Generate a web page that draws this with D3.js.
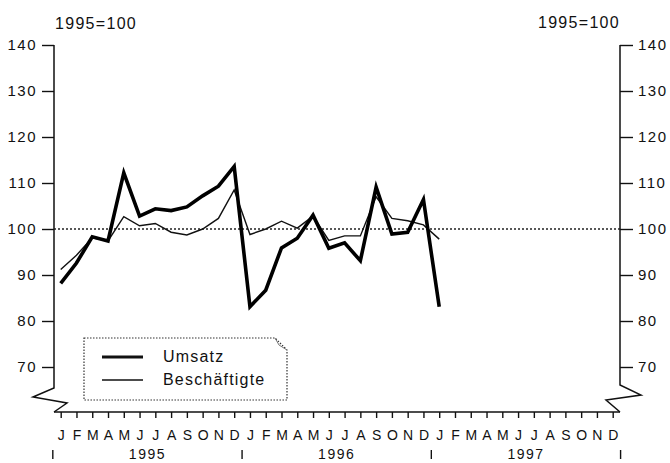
<!DOCTYPE html>
<html>
<head>
<meta charset="utf-8">
<script src="https://cdn.jsdelivr.net/npm/d3@7"></script>
<style>
  body { margin: 0; background: #fff; }
  svg text { font-family: "Liberation Sans", Arial, sans-serif; fill: #111; }
</style>
</head>
<body>
<div id="chart"></div>
<script>
// monthly index values, 1995=100 (Jan 1995 .. Jan 1997)
const months = ["J","F","M","A","M","J","J","A","S","O","N","D"];
const years = ["1995", "1996", "1997"];
const yTicks = [70, 80, 90, 100, 110, 120, 130, 140];

const umsatz = [88.2, 92.6, 98.3, 97.4, 112.2, 102.8, 104.4, 104.0, 104.8, 107.2, 109.3, 113.6,
                83.1, 86.7, 95.9, 98.0, 103.0, 95.8, 97.0, 93.1, 109.1, 98.9, 99.3, 106.4, 83.1];
const beschaeftigte = [91.2, 94.3, 98.1, 97.4, 102.7, 100.7, 101.2, 99.3, 98.7, 100.0, 102.3, 108.5,
                98.8, 100.0, 101.7, 100.2, 102.8, 97.5, 98.5, 98.5, 107.0, 102.3, 101.8, 100.9, 97.8];

const width = 670, height = 463;
const svg = d3.select("#chart").append("svg")
  .attr("width", width)
  .attr("height", height);

const axisLeftX = 54, axisRightX = 620, axisBottomY = 412;

// scales
const x = d3.scaleLinear().domain([0, 35]).range([60.7, 612.7]);
const y = d3.scaleLinear().domain([70, 140]).range([367, 45]);

//------------------ AXES ------------------//
const leftAxis = svg.append("g")
  .attr("transform", "translate(" + axisLeftX + ",0)")
  .call(d3.axisLeft(y).tickValues(yTicks).tickSize(12).tickPadding(5).tickFormat(d3.format("d")));
leftAxis.select(".domain").remove();

const rightAxis = svg.append("g")
  .attr("transform", "translate(" + axisRightX + ",0)")
  .call(d3.axisRight(y).tickValues(yTicks).tickSize(13).tickPadding(5).tickFormat(d3.format("d")));
rightAxis.select(".domain").remove();

svg.selectAll(".tick line").attr("stroke", "#111").attr("stroke-width", 1.4);
svg.selectAll(".tick text")
  .style("font-size", "15px")
  .style("letter-spacing", "1.5px");

// vertical axis lines with the broken-axis zigzag at the bottom
svg.append("path")
  .attr("d", "M" + axisLeftX + "," + y(140) + " V388 L33,397 L67,403 L" + axisLeftX + "," + axisBottomY)
  .attr("fill", "none").attr("stroke", "#111").attr("stroke-width", 1.5);
svg.append("path")
  .attr("d", "M" + axisRightX + "," + y(140) + " V385 L641,395 L606,400 L" + axisRightX + "," + axisBottomY)
  .attr("fill", "none").attr("stroke", "#111").attr("stroke-width", 1.5);

// x axis
svg.append("line")
  .attr("x1", axisLeftX).attr("x2", axisRightX)
  .attr("y1", axisBottomY).attr("y2", axisBottomY)
  .attr("stroke", "#111").attr("stroke-width", 1.5);

const monthIdx = d3.range(36);
const xAxis = svg.append("g")
  .attr("transform", "translate(0," + axisBottomY + ")")
  .call(d3.axisBottom(x).tickValues(monthIdx).tickSize(6).tickPadding(12)
    .tickFormat(i => months[i % 12]));
xAxis.select(".domain").remove();
xAxis.selectAll("line").attr("stroke", "#111").attr("stroke-width", 1.4);
xAxis.selectAll("text").style("font-size", "14px").style("letter-spacing", "0px");

// year separators and labels
const step = x(1) - x(0);
d3.range(4).forEach(k => {
  const sx = x(k * 12) - step / 2;
  svg.append("line")
    .attr("x1", sx).attr("x2", sx).attr("y1", 450).attr("y2", 459)
    .attr("stroke", "#111").attr("stroke-width", 1.4);
});
svg.selectAll(".year")
  .data(years)
  .enter()
  .append("text")
  .attr("class", "year")
  .attr("x", (d, i) => (x(i * 12) + x(i * 12 + 11)) / 2)
  .attr("y", 459)
  .attr("text-anchor", "middle")
  .style("font-size", "14px")
  .style("letter-spacing", "1.5px")
  .text(d => d);

// base labels
svg.append("text").attr("x", 55).attr("y", 29)
  .style("font-size", "16px").style("letter-spacing", "1.3px").text("1995=100");
svg.append("text").attr("x", 620).attr("y", 28).attr("text-anchor", "end")
  .style("font-size", "16px").style("letter-spacing", "1.3px").text("1995=100");

// dotted 100 reference line
svg.append("line")
  .attr("x1", axisLeftX).attr("x2", axisRightX)
  .attr("y1", y(100)).attr("y2", y(100))
  .attr("stroke", "#222").attr("stroke-width", 1.3)
  .attr("stroke-dasharray", "2,2");

//------------------ LINES ------------------//
const line = d3.line()
  .x((d, i) => x(i))
  .y(d => y(d));

svg.append("path")
  .datum(beschaeftigte)
  .attr("d", line)
  .attr("fill", "none")
  .attr("stroke", "#111")
  .attr("stroke-width", 1.4);

svg.append("path")
  .datum(umsatz)
  .attr("d", line)
  .attr("fill", "none")
  .attr("stroke", "#000")
  .attr("stroke-width", 3.6)
  .attr("stroke-linejoin", "miter");

//------------------ LEGEND ------------------//
const legend = svg.append("g");
legend.append("path")
  .attr("d", "M84,338 H275 L287,350 V400 H84 Z")
  .attr("fill", "#fff")
  .attr("stroke", "#333")
  .attr("stroke-width", 1.2)
  .attr("stroke-dasharray", "1.5,1.5");
legend.append("path")
  .attr("d", "M275,338 L279,345 L287,350")
  .attr("fill", "none").attr("stroke", "#777").attr("stroke-width", 1);

const legendItems = [
  { name: "Umsatz", w: 3.2, y: 357 },
  { name: "Beschäftigte", w: 1.4, y: 380 }
];
legend.selectAll(".leg-line")
  .data(legendItems)
  .enter()
  .append("line")
  .attr("x1", 102).attr("x2", 143)
  .attr("y1", d => d.y).attr("y2", d => d.y)
  .attr("stroke", "#111")
  .attr("stroke-width", d => d.w);
legend.selectAll(".leg-text")
  .data(legendItems)
  .enter()
  .append("text")
  .attr("x", 163)
  .attr("y", d => d.y + 5)
  .style("font-size", "16px")
  .style("letter-spacing", "1.2px")
  .text(d => d.name);
</script>
</body>
</html>
